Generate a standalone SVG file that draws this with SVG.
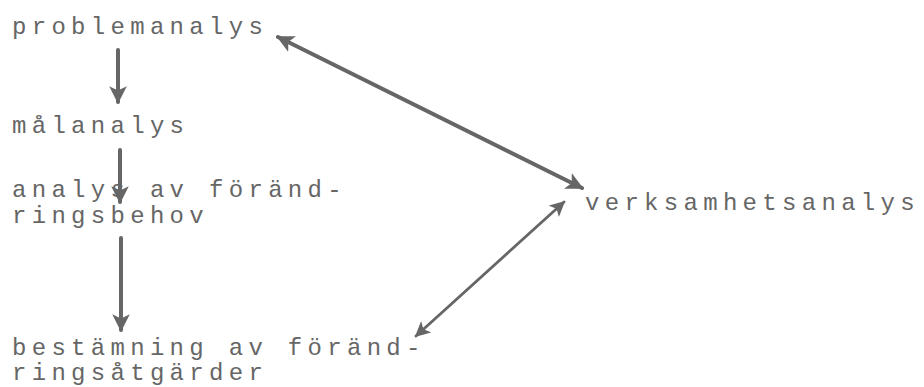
<svg xmlns="http://www.w3.org/2000/svg" width="924" height="387" viewBox="0 0 924 387">
<defs>
<style>
.t{font-family:"Liberation Mono","Courier New",monospace;font-size:24px;letter-spacing:5.3px;fill:#666}
.c{stroke:#666;fill:none;stroke-linecap:round}
</style>
<marker id="ah" viewBox="0 0 10 10" refX="9" refY="5" markerWidth="4.4" markerHeight="4.4" orient="auto-start-reverse" markerUnits="strokeWidth">
<path d="M0,0 L10,5 L0,10 L2.5,5 Z" fill="#666"/>
</marker>
<marker id="ah2" viewBox="0 0 10 10" refX="9" refY="5" markerWidth="5.5" markerHeight="5.5" orient="auto-start-reverse" markerUnits="strokeWidth">
<path d="M0,0 L10,5 L0,10 L2.5,5 Z" fill="#666"/>
</marker>
</defs>
<rect width="924" height="387" fill="#fff"/>
<g id="problemanalys"><text class="t" x="12" y="34">problemanalys</text></g>
<g id="malanalys"><text class="t" x="12" y="133">målanalys</text></g>
<g id="forandringsbehov"><text class="t" x="12" y="197">analys av föränd-</text><text class="t" x="12" y="223">ringsbehov</text></g>
<g id="forandringsatgarder"><text class="t" x="12" y="355">bestämning av föränd-</text><text class="t" x="12" y="380">ringsåtgärder</text></g>
<g id="verksamhetsanalys"><text class="t" x="585" y="210">verksamhetsanalys</text></g>
<g id="connectors">
<line class="c" x1="118" y1="50" x2="118" y2="102" stroke-width="4" marker-end="url(#ah)"/>
<line class="c" x1="120" y1="150" x2="120" y2="202" stroke-width="4" marker-end="url(#ah)"/>
<line class="c" x1="121" y1="238" x2="121" y2="330" stroke-width="4" marker-end="url(#ah)"/>
<line class="c" x1="278" y1="37" x2="582" y2="188" stroke-width="4" marker-start="url(#ah)" marker-end="url(#ah)"/>
<line class="c" x1="416" y1="336" x2="564" y2="202" stroke-width="2.8" marker-start="url(#ah2)" marker-end="url(#ah2)"/>
</g>
</svg>
